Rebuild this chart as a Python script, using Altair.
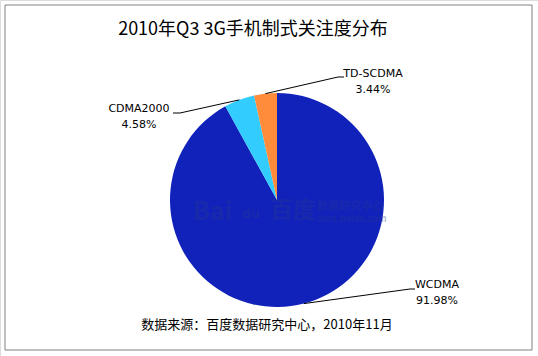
import math
import altair as alt
import pandas as pd

# ---- data ----
categories = ["WCDMA", "CDMA2000", "TD-SCDMA"]
shares = [91.98, 4.58, 3.44]
colors = ["#1122BB", "#33CCFF", "#FF8C3A"]
title_text = "2010年Q3 3G手机制式关注度分布"
source_text = "数据来源：百度数据研究中心，2010年11月"
watermark_texts = ["Bai", "du", "百度", "数据研究中心", "data.baidu.com"]

# ---- layout (pixels) ----
W, H = 538, 356
CX, CY, R = 277, 200, 107
elbow = {"WCDMA": (410, 289), "CDMA2000": (180, 113), "TD-SCDMA": (338, 77)}
tail = {"WCDMA": (415, 289), "CDMA2000": (173, 113), "TD-SCDMA": (344, 77)}
label_pos = {"WCDMA": (437, 285), "CDMA2000": (139, 109), "TD-SCDMA": (373, 74)}

pie = pd.DataFrame({"cat": categories, "share": shares, "order": range(len(categories))})

# leader lines from slice mid-angle on the rim
total = sum(shares)
rows = []
lab_rows = []
cum = 0.0
for c, s in zip(categories, shares):
    mid = (cum + s / 2) / total * 2 * math.pi
    cum += s
    ex, ey = CX + R * math.sin(mid), CY - R * math.cos(mid)
    pts = [(ex, ey), elbow[c], tail[c]]
    for i, (px, py) in enumerate(pts):
        rows.append({"cat": c, "i": i, "px": px, "py": py})
    lx, ly = label_pos[c]
    lab_rows.append({"t": c, "px": lx, "py": ly})
    lab_rows.append({"t": f"{s:.2f}%", "px": lx, "py": ly + 16})
lines = pd.DataFrame(rows)
labels = pd.DataFrame(lab_rows)

xs = alt.Scale(domain=[0, W], range=[0, W])
ys = alt.Scale(domain=[0, H], range=[0, H])

frame = alt.Chart(pd.DataFrame({"a": [0]})).mark_rect(
    fill="white", stroke="#808080", strokeWidth=1
).encode(x=alt.value(5), x2=alt.value(532), y=alt.value(5), y2=alt.value(350))

arc = alt.Chart(pie).mark_arc(radius=R, stroke=None).encode(
    theta=alt.Theta("share:Q", stack=True),
    order=alt.Order("order:Q"),
    color=alt.Color("cat:N", scale=alt.Scale(domain=categories, range=colors), legend=None),
    x=alt.value(CX),
    y=alt.value(CY),
)

wm = pd.DataFrame({
    "t": watermark_texts,
    "px": [193, 242, 270, 317, 317],
    "py": [212, 214, 211, 207, 219],
    "fs": [25, 14, 23, 11, 9],
})
watermark = alt.Chart(wm).mark_text(
    font="Noto Sans CJK SC", fontWeight="bold", color="#2a3690", opacity=0.35,
    baseline="middle", align="left"
).encode(
    x=alt.X("px:Q", scale=xs, axis=None),
    y=alt.Y("py:Q", scale=ys, axis=None),
    text="t:N",
    size=alt.Size("fs:Q", scale=None, legend=None),
)

leader = alt.Chart(lines).mark_line(color="#000000", strokeWidth=1).encode(
    x=alt.X("px:Q", scale=xs, axis=None),
    y=alt.Y("py:Q", scale=ys, axis=None),
    detail="cat:N",
    order="i:Q",
)

lab = alt.Chart(labels).mark_text(
    font="DejaVu Sans", fontSize=11, color="#000000", baseline="middle", align="center"
).encode(
    x=alt.X("px:Q", scale=xs, axis=None),
    y=alt.Y("py:Q", scale=ys, axis=None),
    text="t:N",
)

ttl = alt.Chart(pd.DataFrame({"t": [title_text]})).mark_text(
    font="Noto Sans CJK SC", fontSize=18, color="#000000", baseline="middle", align="center"
).encode(x=alt.value(253), y=alt.value(30), text="t:N")

src = alt.Chart(pd.DataFrame({"t": [source_text]})).mark_text(
    font="Noto Sans CJK SC", fontSize=13, color="#000000", baseline="middle", align="center"
).encode(x=alt.value(267), y=alt.value(325), text="t:N")

chart = alt.layer(frame, arc, watermark, leader, lab, ttl, src).properties(
    width=W, height=H, autosize=alt.AutoSizeParams(type="none"), padding=0
).configure_view(stroke=None).configure(background="white")

chart.save("out.html", embed_options={"renderer": "svg", "actions": False})
